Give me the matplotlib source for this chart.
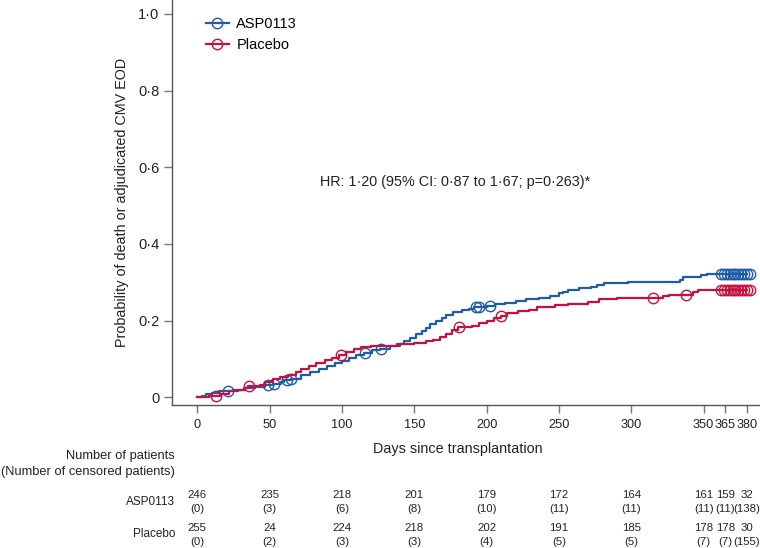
import numpy as np
import matplotlib.pyplot as plt
import matplotlib.transforms as mtransforms
from matplotlib.lines import Line2D

plt.rcParams["font.family"] = ["Liberation Sans", "DejaVu Sans"]

BLUE, RED = "#1f5ca8", "#c8103e"

# cumulative incidence step points (day, probability)
asp_days = [0, 3, 6, 10, 15, 25, 32, 40, 47, 52, 58, 60, 65, 72, 78, 84, 90, 95, 100, 105,
            110, 115, 121, 126, 133, 140, 143, 147, 151, 155, 158, 161, 165, 169, 172, 177,
            183, 188, 191, 200, 206, 213, 220, 227, 236, 244, 250, 253, 256, 264, 272, 276,
            281, 298, 334, 336, 348, 352, 380]
asp_prob = [0.0, 0.004, 0.008, 0.012, 0.016, 0.020, 0.024, 0.028, 0.032, 0.036, 0.041, 0.045,
            0.049, 0.057, 0.065, 0.073, 0.082, 0.090, 0.094, 0.102, 0.110, 0.115, 0.123, 0.127,
            0.135, 0.139, 0.148, 0.156, 0.165, 0.173, 0.181, 0.190, 0.198, 0.206, 0.214, 0.222,
            0.227, 0.231, 0.235, 0.239, 0.243, 0.247, 0.251, 0.256, 0.260, 0.264, 0.272, 0.276,
            0.281, 0.285, 0.289, 0.293, 0.297, 0.301, 0.306, 0.314, 0.318, 0.322, 0.322]
asp_cens = [21, 49, 53, 62, 65, 116, 127, 193, 195, 202,
            362, 364, 366, 368, 370, 372, 374, 376, 378, 380, 382]

pla_days = [0, 8, 16, 22, 28, 33, 35, 43, 47, 52, 57, 63, 68, 72, 77, 82, 88, 93, 98, 103,
            108, 113, 120, 138, 150, 158, 163, 168, 172, 176, 180, 190, 195, 200, 205, 210,
            214, 222, 229, 235, 247, 256, 270, 278, 290, 322, 326, 343, 346, 380]
pla_prob = [0.0, 0.004, 0.008, 0.016, 0.020, 0.024, 0.029, 0.033, 0.041, 0.049, 0.053, 0.057,
            0.065, 0.073, 0.082, 0.090, 0.098, 0.102, 0.110, 0.118, 0.126, 0.130, 0.134, 0.138,
            0.142, 0.146, 0.150, 0.158, 0.166, 0.175, 0.183, 0.187, 0.195, 0.199, 0.207, 0.211,
            0.220, 0.224, 0.228, 0.236, 0.240, 0.244, 0.248, 0.256, 0.260, 0.264, 0.268, 0.276,
            0.280, 0.280]
pla_cens = [13, 36, 99, 181, 210, 315, 338,
            362, 364, 366, 368, 370, 372, 374, 376, 378, 380, 382]

xticks = [0, 50, 100, 150, 200, 250, 300, 350, 365, 380]
yticks = [0, 0.2, 0.4, 0.6, 0.8, 1.0]
ytick_labels = ["0", "0·2", "0·4", "0·6", "0·8", "1·0"]

asp_risk = ["246", "235", "218", "201", "179", "172", "164", "161", "159", "32"]
asp_cens_n = ["(0)", "(3)", "(6)", "(8)", "(10)", "(11)", "(11)", "(11)", "(11)", "(138)"]
pla_risk = ["255", "24", "224", "218", "202", "191", "185", "178", "178", "30"]
pla_cens_n = ["(0)", "(2)", "(3)", "(3)", "(4)", "(5)", "(5)", "(7)", "(7)", "(155)"]


def step_at(days, probs, t):
    i = np.searchsorted(days, t, side="right") - 1
    return np.array(probs)[i]


fig = plt.figure(figsize=(7.6, 5.48), dpi=100)
ax = fig.add_axes([172 / 760, 1 - 405 / 548, 1 - 172 / 760, 405 / 548])

for d, p, c, col in [(asp_days, asp_prob, asp_cens, BLUE), (pla_days, pla_prob, pla_cens, RED)]:
    ax.step(d, p, where="post", color=col, lw=1.6)
    ax.plot(c, step_at(d, p, c), ls="none", marker="o", ms=7.5, mfc="none", mec=col, mew=1.0)

ax.set_xlim((172 - 197.3) / 1.4466, (760 - 197.3) / 1.4466)
ax.set_ylim(-(405 - 397.3) / 383.3, 1 + 14 / 383.3)
ax.set_xticks(xticks)
ax.set_xticklabels([str(t) for t in xticks], fontsize=9.2)
ax.set_yticks(yticks)
ax.set_yticklabels(ytick_labels, fontsize=10.5)
ax.tick_params(length=6, width=1, color="#777777", pad=3, labelcolor="#222222")
ax.tick_params(axis="x", pad=4)
for s in ["top", "right"]:
    ax.spines[s].set_visible(False)
for s in ["left", "bottom"]:
    ax.spines[s].set_color("#555555")
    ax.spines[s].set_linewidth(1)

ax.set_ylabel("Probability of death or adjudicated CMV EOD", fontsize=10.4, color="#222222", labelpad=7)
ax.set_xlabel("Days since transplantation", fontsize=10.4, color="#222222")
ax.xaxis.set_label_coords(0.486, -0.092)

ax.text(178, 0.562, "HR: 1·20 (95% CI: 0·87 to 1·67; p=0·263)*", fontsize=10.4, ha="center",
        va="center", color="#222222")

handles = [Line2D([0], [0], color=BLUE, lw=1.6, marker="o", ms=7.5, mfc="none", mew=1.0),
           Line2D([0], [0], color=RED, lw=1.6, marker="o", ms=7.5, mfc="none", mew=1.0)]
ax.legend(handles, ["ASP0113", "Placebo"], loc="upper left", bbox_to_anchor=(0.035, 0.99),
          frameon=False, fontsize=10.5, handlelength=1.6, handletextpad=0.5, labelspacing=0.45)

# number at risk table
tr = mtransforms.blended_transform_factory(ax.transData, fig.transFigure)
fig.text(175 / 760, 1 - 456 / 548, "Number of patients", ha="right", va="center", fontsize=9.3, color="#222222")
fig.text(175 / 760, 1 - 472 / 548, "(Number of censored patients)", ha="right", va="center", fontsize=9.3, color="#222222")
fig.text(175 / 760, 1 - 502 / 548, "ASP0113", ha="right", va="center", fontsize=8.5, color="#222222")
fig.text(175 / 760, 1 - 534 / 548, "Placebo", ha="right", va="center", fontsize=8.5, color="#222222")
tab_font = dict(fontsize=8.2, ha="center", va="center", color="#222222")
for i, t in enumerate(xticks):
    fig.text(t, 1 - 495 / 548, asp_risk[i], transform=tr, **tab_font)
    fig.text(t, 1 - 509 / 548, asp_cens_n[i], transform=tr, **tab_font)
    fig.text(t, 1 - 528 / 548, pla_risk[i], transform=tr, **tab_font)
    fig.text(t, 1 - 542 / 548, pla_cens_n[i], transform=tr, **tab_font)

fig.savefig("out.png", dpi=100)
